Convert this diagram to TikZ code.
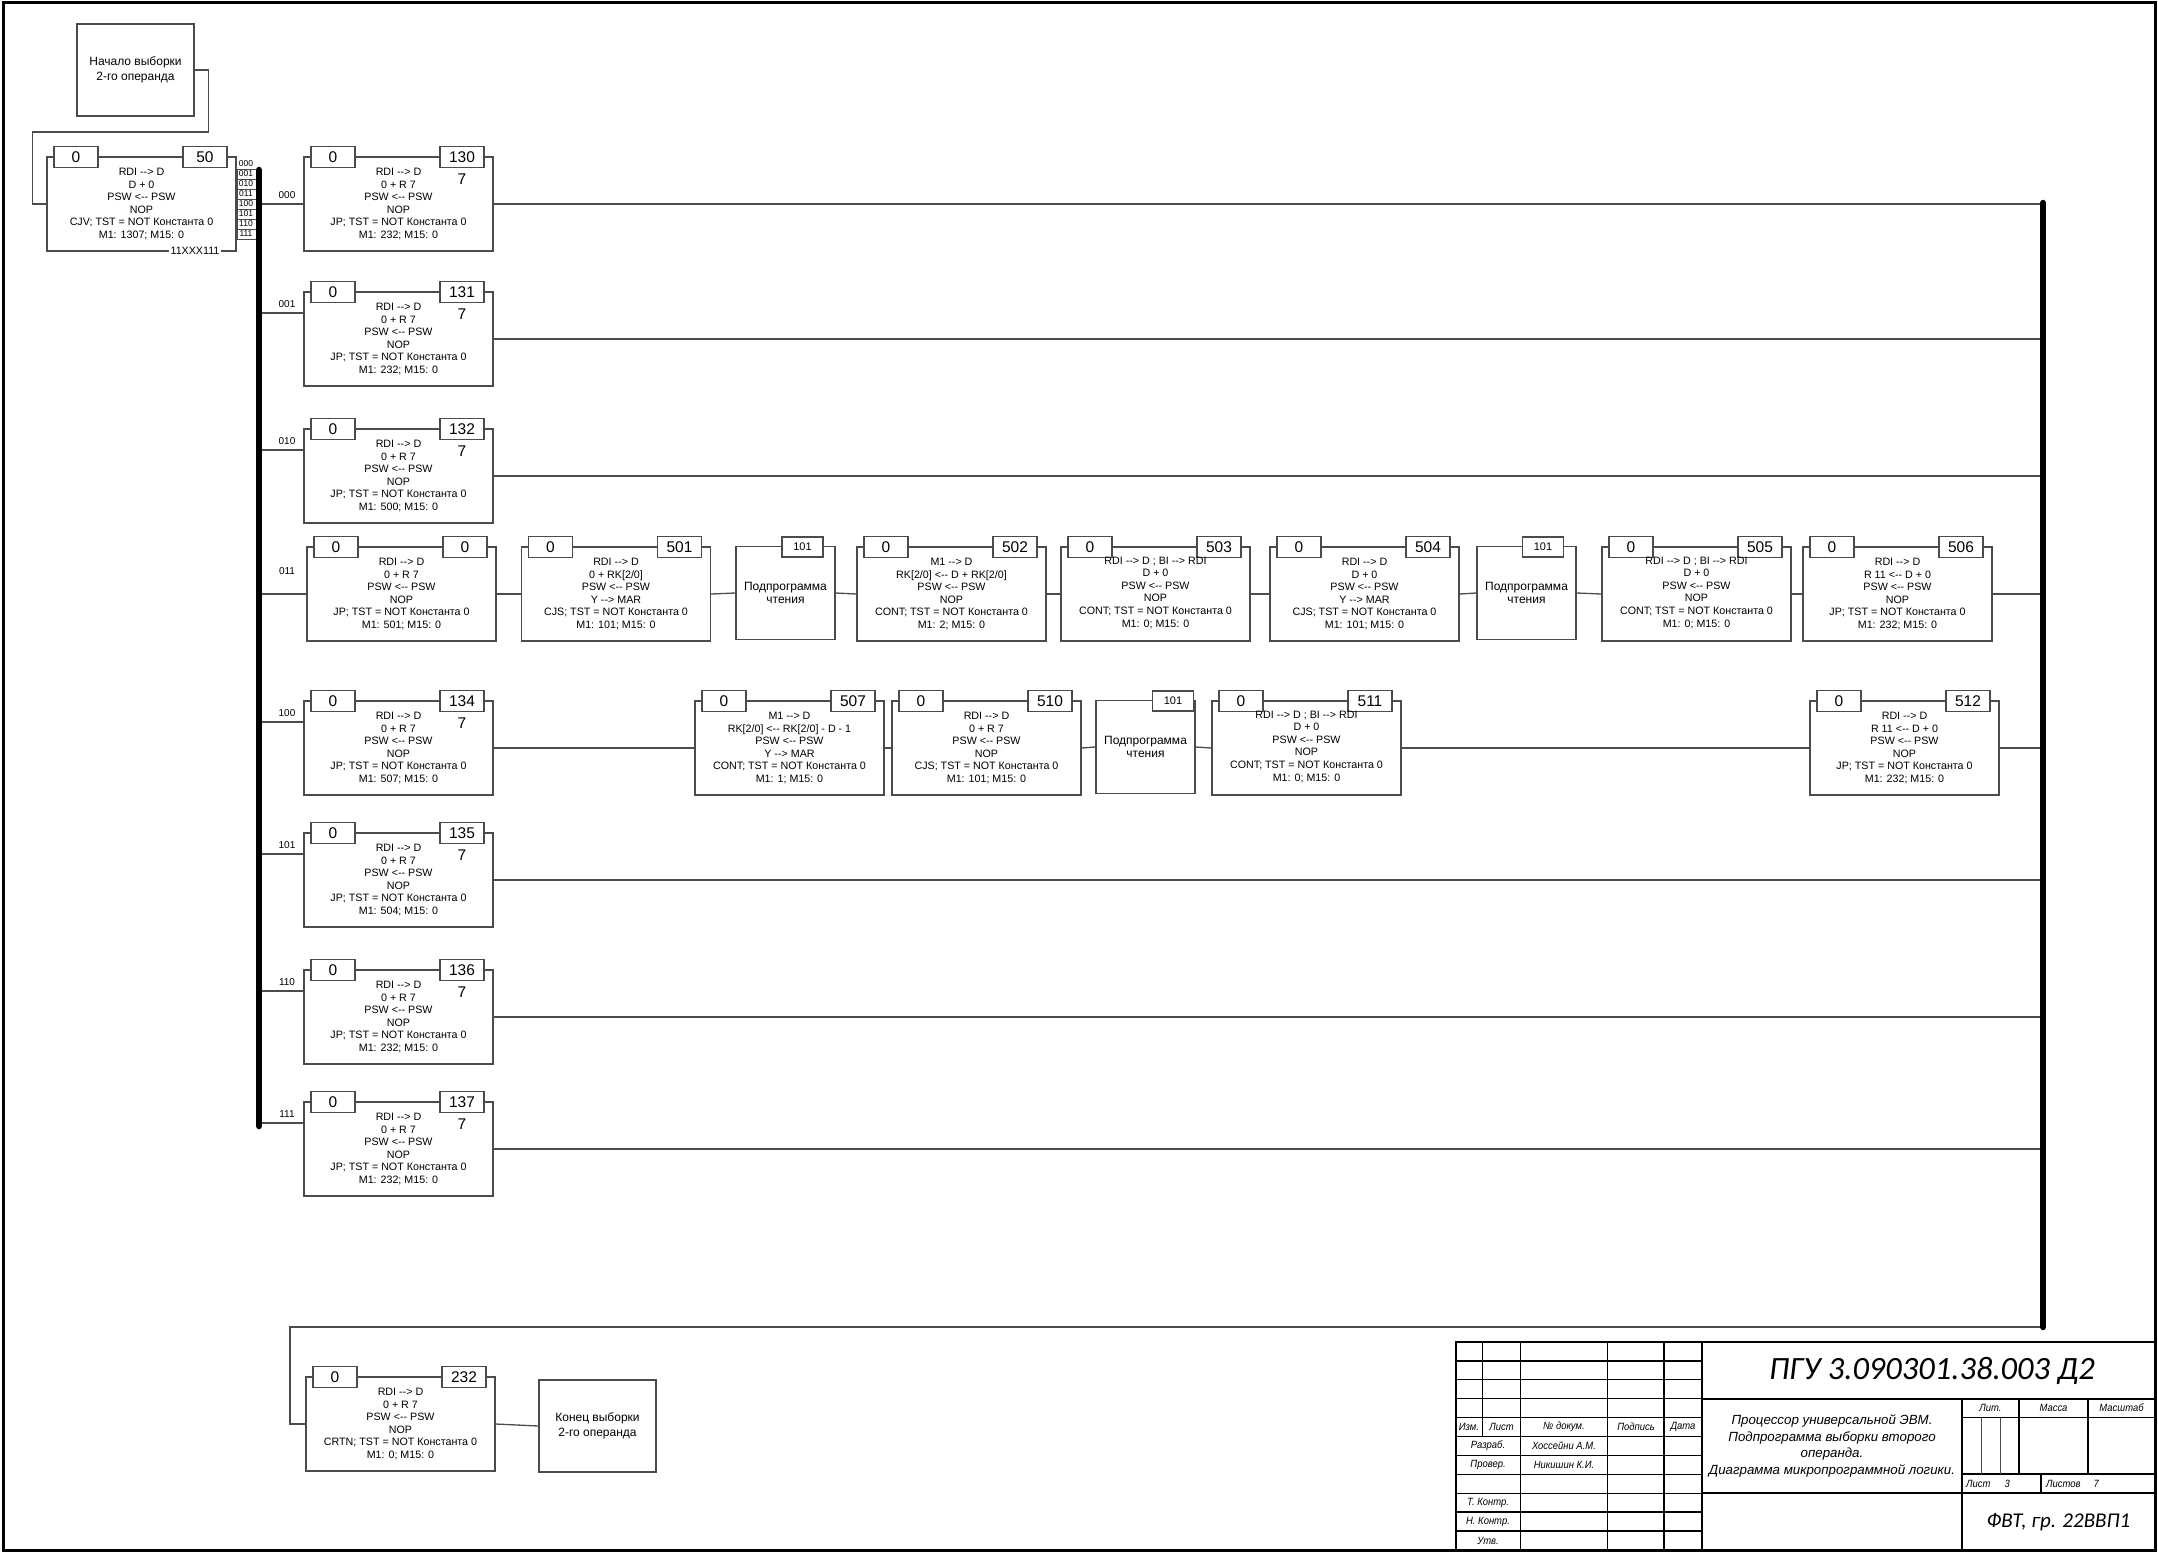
\documentclass[tikz,border=0pt]{standalone}
\usepackage{fontspec}
\setmainfont{Liberation Sans}[Ligatures=TeXOff]
\newfontfamily\gostfont{Carlito}
\newfontfamily\narrowfont{Liberation Sans}[FakeStretch=0.9,Ligatures=TeXOff]
\usetikzlibrary{calc}
\definecolor{ln}{RGB}{75,75,75}

% microinstruction box: name, left x, top y, left field, right field, text, text options
\newcommand\mpbox[7]{%
  \node[outerbox] (#1) at ({#2+94.5},{#3+47}) {};
  \node[numbox] (#1a) at ({#2+29},#3) {#4};
  \node[numbox] (#1b) at ({#2+158},#3) {#5};
  \node[boxtext,#7] (#1t) at (#1.center) {#6};
}
% "7" under the address field
\newcommand\seven[1]{\node[numfont] (#1s) at ([yshift=-11.5pt]#1b.south) {7};}
% subroutine call box: name, left x, top y, offset of the 101 field
\newcommand\subbox[4]{%
  \node[subouter] (#1) at ({#2+49.5},{#3+46}) {Подпрограмма\\чтения};
  \node[smallnum] (#1n) at ({#2+#4},#3) {101};
}
\newcommand\jpt{JP; TST = NOT Константа 0}

\begin{document}
\begin{tikzpicture}[x=1pt,y=-1pt,
  wire/.style={draw=ln,line width=1.3pt},
  bus/.style={draw=black,line width=6.5pt,line cap=round},
  outerbox/.style={wire,minimum width=189pt,minimum height=94pt,inner sep=0pt},
  numfont/.style={inner sep=0pt,font=\fontsize{15.5}{15.5}\selectfont},
  numbox/.style={wire,fill=white,minimum width=44pt,minimum height=21pt,inner sep=0pt,font=\fontsize{15.5}{15.5}\selectfont},
  smallnum/.style={wire,fill=white,minimum width=41pt,minimum height=20pt,inner sep=0pt,font=\fontsize{11}{11}\selectfont},
  boxtext/.style={align=center,inner sep=0pt,font=\fontsize{10.7}{12.6}\selectfont},
  subouter/.style={wire,minimum width=99pt,minimum height=93pt,inner sep=0pt,align=center,font=\fontsize{12}{13}\selectfont},
  termbox/.style={wire,minimum width=117pt,minimum height=92pt,inner sep=0pt,align=center,font=\fontsize{12}{15}\selectfont},
  lbl/.style={inner sep=0pt,font=\fontsize{10}{10}\selectfont},
  code/.style={inner sep=0pt,font=\fontsize{8.5}{8.5}\selectfont},
  tb/.style={draw=black,line width=1.7pt},
  tbthin/.style={draw=black!70,line width=0.8pt},
  tbsmall/.style={inner sep=0pt,font=\narrowfont\itshape\fontsize{10.5}{10.5}\selectfont},
]
\useasboundingbox (0,0) rectangle (2158,1553);
\fill[white] (0,0) rectangle (2158,1553);

% ---------- start of the routine ----------
\node[termbox] (start) at (135.5,70) {Начало выборки\\2-го операнда};
\mpbox{b50}{47}{157}{0}{50}{RDI --> D\\D + 0\\PSW <-- PSW\\NOP\\CJV; TST = NOT Константа 0\\M1: 1307; M15: 0}{}
\draw[wire] (start.east) -- ++(14,0) -- ++(0,62) -| ([xshift=-14pt]b50.west) -- (b50.west);
\node[boxtext,fill=white,inner sep=1.5pt] (mask) at (195,251) {11XXX111};

% branch code table
\foreach \c [count=\k from 0] in {000,001,010,011,100,101,110,111}
  \node[code] (code\c) at (246,{164+10*\k}) {\c};
\foreach \k in {0,...,7}
  \draw[wire,line width=0.9pt] (237,{169+10*\k}) -- (256,{169+10*\k});
\draw[wire,line width=0.9pt] (237,169) -- (237,239);

% ---------- buses ----------
\coordinate (lbusT) at (259,170);
\coordinate (lbusB) at (259,1126);
\coordinate (rbusT) at (2043,203);
\coordinate (rbusB) at (2043,1327);

% ---------- branch 000 ----------
\mpbox{b130}{304}{157}{0}{130}{RDI --> D\\0 + R 7\\PSW <-- PSW\\NOP\\\jpt\\M1: 232; M15: 0}{}
\seven{b130}
\node[lbl] (l000) at (287,195) {000};
\draw[wire] (lbusT |- b130.west) -- (b130.west);
\draw[wire] (b130.east) -- (rbusT |- b130.east);

% ---------- branch 001 ----------
\mpbox{b131}{304}{292}{0}{131}{RDI --> D\\0 + R 7\\PSW <-- PSW\\NOP\\\jpt\\M1: 232; M15: 0}{}
\seven{b131}
\node[lbl] (l001) at (287,304) {001};
\coordinate (in131) at ([yshift=26pt]b131.west);
\draw[wire] (lbusT |- in131) -- (in131);
\draw[wire] (b131.east) -- (rbusT |- b131.east);

% ---------- branch 010 ----------
\mpbox{b132}{304}{429}{0}{132}{RDI --> D\\0 + R 7\\PSW <-- PSW\\NOP\\\jpt\\M1: 500; M15: 0}{}
\seven{b132}
\node[lbl] (l010) at (287,441) {010};
\coordinate (in132) at ([yshift=26pt]b132.west);
\draw[wire] (lbusT |- in132) -- (in132);
\draw[wire] (b132.east) -- (rbusT |- b132.east);

% ---------- branch 011 ----------
\mpbox{b011}{307}{547}{0}{0}{RDI --> D\\0 + R 7\\PSW <-- PSW\\NOP\\\jpt\\M1: 501; M15: 0}{}
\mpbox{b501}{521.5}{547}{0}{501}{RDI --> D\\0 + RK[2/0]\\PSW <-- PSW\\Y --> MAR\\CJS; TST = NOT Константа 0\\M1: 101; M15: 0}{}
\subbox{s1}{736}{547}{66.5}
\mpbox{b502}{857}{547}{0}{502}{M1 --> D\\RK[2/0] <-- D + RK[2/0]\\PSW <-- PSW\\NOP\\CONT; TST = NOT Константа 0\\M1: 2; M15: 0}{}
\mpbox{b503}{1061}{547}{0}{503}{RDI --> D ; BI --> RDI\\D + 0\\PSW <-- PSW\\NOP\\CONT; TST = NOT Константа 0\\M1: 0; M15: 0}{yshift=1.5pt}
\mpbox{b504}{1270}{547}{0}{504}{RDI --> D\\D + 0\\PSW <-- PSW\\Y --> MAR\\CJS; TST = NOT Константа 0\\M1: 101; M15: 0}{}
\subbox{s2}{1477}{547}{66}
\mpbox{b505}{1602}{547}{0}{505}{RDI --> D ; BI --> RDI\\D + 0\\PSW <-- PSW\\NOP\\CONT; TST = NOT Константа 0\\M1: 0; M15: 0}{yshift=1.5pt}
\mpbox{b506}{1803}{547}{0}{506}{RDI --> D\\R 11 <-- D + 0\\PSW <-- PSW\\NOP\\\jpt\\M1: 232; M15: 0}{}
\node[lbl] (l011) at (287,571) {011};
\draw[wire] (lbusT |- b011.west) -- (b011.west);
\draw[wire] (b011.east) -- (b501.west);
\draw[wire] (b501.east) -- (s1.west);
\draw[wire] (s1.east) -- (b502.west);
\draw[wire] (b502.east) -- (b503.west);
\draw[wire] (b503.east) -- (b504.west);
\draw[wire] (b504.east) -- (s2.west);
\draw[wire] (s2.east) -- (b505.west);
\draw[wire] (b505.east) -- (b506.west);
\draw[wire] (b506.east) -- (rbusT |- b506.east);

% ---------- branch 100 ----------
\mpbox{b134}{304}{701}{0}{134}{RDI --> D\\0 + R 7\\PSW <-- PSW\\NOP\\\jpt\\M1: 507; M15: 0}{}
\seven{b134}
\mpbox{b507}{695}{701}{0}{507}{M1 --> D\\RK[2/0] <-- RK[2/0] - D - 1\\PSW <-- PSW\\Y --> MAR\\CONT; TST = NOT Константа 0\\M1: 1; M15: 0}{}
\mpbox{b510}{892}{701}{0}{510}{RDI --> D\\0 + R 7\\PSW <-- PSW\\NOP\\CJS; TST = NOT Константа 0\\M1: 101; M15: 0}{}
\subbox{s3}{1096}{701}{77}
\mpbox{b511}{1212}{701}{0}{511}{RDI --> D ; BI --> RDI\\D + 0\\PSW <-- PSW\\NOP\\CONT; TST = NOT Константа 0\\M1: 0; M15: 0}{yshift=1.5pt}
\mpbox{b512}{1810}{701}{0}{512}{RDI --> D\\R 11 <-- D + 0\\PSW <-- PSW\\NOP\\\jpt\\M1: 232; M15: 0}{}
\node[lbl] (l100) at (287,713) {100};
\coordinate (in134) at ([yshift=26pt]b134.west);
\draw[wire] (lbusT |- in134) -- (in134);
\draw[wire] (b134.east) -- (b507.west);
\draw[wire] (b507.east) -- (b510.west);
\draw[wire] (b510.east) -- (s3.west);
\draw[wire] (s3.east) -- (b511.west);
\draw[wire] (b511.east) -- (b512.west);
\draw[wire] (b512.east) -- (rbusT |- b512.east);

% ---------- branch 101 ----------
\mpbox{b135}{304}{833}{0}{135}{RDI --> D\\0 + R 7\\PSW <-- PSW\\NOP\\\jpt\\M1: 504; M15: 0}{}
\seven{b135}
\node[lbl] (l101) at (287,845) {101};
\coordinate (in135) at ([yshift=26pt]b135.west);
\draw[wire] (lbusT |- in135) -- (in135);
\draw[wire] (b135.east) -- (rbusT |- b135.east);

% ---------- branch 110 ----------
\mpbox{b136}{304}{970}{0}{136}{RDI --> D\\0 + R 7\\PSW <-- PSW\\NOP\\\jpt\\M1: 232; M15: 0}{}
\seven{b136}
\node[lbl] (l110) at (287,982) {110};
\coordinate (in136) at ([yshift=26pt]b136.west);
\draw[wire] (lbusT |- in136) -- (in136);
\draw[wire] (b136.east) -- (rbusT |- b136.east);

% ---------- branch 111 ----------
\mpbox{b137}{304}{1102}{0}{137}{RDI --> D\\0 + R 7\\PSW <-- PSW\\NOP\\\jpt\\M1: 232; M15: 0}{}
\seven{b137}
\node[lbl] (l111) at (287,1114) {111};
\coordinate (in137) at ([yshift=26pt]b137.west);
\draw[wire] (lbusT |- in137) -- (in137);
\draw[wire] (b137.east) -- (rbusT |- b137.east);

% ---------- end of the routine ----------
\mpbox{b232}{306}{1377}{0}{232}{RDI --> D\\0 + R 7\\PSW <-- PSW\\NOP\\CRTN; TST = NOT Константа 0\\M1: 0; M15: 0}{}
\node[termbox] (finish) at (597.5,1426) {Конец выборки\\2-го операнда};
\coordinate (loop) at (290,1327);
\draw[wire] (rbusB) -- (loop) |- (b232.west);
\draw[wire] (b232.east) -- (finish.west);

% buses on top
\draw[bus] (lbusT) -- (lbusB);
\draw[bus] (rbusT) -- (rbusB);

% ---------- title block ----------
\def\ya{1342}\def\yb{1360.9}\def\yc{1379.8}\def\yd{1398.7}\def\ye{1417.6}\def\yf{1436.5}
\def\yg{1455.4}\def\yh{1474.3}\def\yi{1493.2}\def\yj{1512.1}\def\yk{1531}\def\yl{1550}
\draw[tb] (1456,\yl) -- (1456,\ya) -- (2155,\ya);
\foreach \yy in {\yb,\yc,\yd,\ye,\yf,\yg,\yh,\yi,\yj,\yk}
  \draw[tb,line width=1.3pt] (1456,\yy) -- (1702,\yy);
\draw[tb] (1456,\yf) -- (1702,\yf);
\draw[tb] (1456,\ye) -- (1702,\ye);
\draw[tb] (1482.5,\ya) -- (1482.5,\yf);
\foreach \xx in {1520.5,1607.5,1664,1702}
  \draw[tb] (\xx,\ya) -- (\xx,\yl);
\draw[tb] (1702,\yd) -- (2155,\yd);
\draw[tb] (1702,\yi) -- (2155,\yi);
\draw[tb] (1962,\yd) -- (1962,\yl);
\draw[tb] (1962,\ye) -- (2155,\ye);
\draw[tb] (1962,\yh) -- (2155,\yh);
\draw[tb] (2019,\yd) -- (2019,\yh);
\draw[tb] (2088,\yd) -- (2088,\yh);
\draw[tbthin] (1981,\ye) -- (1981,\yh);
\draw[tbthin] (2000,\ye) -- (2000,\yh);
\draw[tb] (2041,\yh) -- (2041,\yi);

\node[inner sep=0pt,font=\gostfont\itshape\fontsize{32.5}{32.5}\selectfont] (doc) at (1932,1371) {ПГУ 3.090301.38.003 Д2};
\node[inner sep=0pt,align=center,font=\itshape\fontsize{13.3}{16.5}\selectfont] (topic) at (1832,1446)
  {Процессор универсальной ЭВМ.\\Подпрограмма выборки второго\\операнда.\\Диаграмма микропрограммной логики.};
\node[tbsmall] (lit) at (1990.5,1408) {Лит.};
\node[tbsmall] (mass) at (2053.5,1408) {Масса};
\node[tbsmall] (scale) at (2121.5,1408) {Масштаб};
\node[tbsmall,anchor=west] (sheet) at (1966,1484) {Лист\hspace{14pt}3};
\node[tbsmall,anchor=west] (sheets) at (2046,1484) {Листов\hspace{13pt}7};
\node[inner sep=0pt,font=\gostfont\itshape\fontsize{21}{21}\selectfont] (group) at (2058.5,1522) {ФВТ, гр. 22ВВП1};
\node[tbsmall] (h1) at (1469,1427) {Изм.};
\node[tbsmall] (h2) at (1501.5,1427) {Лист};
\node[tbsmall] (h3) at (1564,1427) {№ докум.};
\node[tbsmall] (h4) at (1636,1427) {Подпись};
\node[tbsmall] (h5) at (1683,1427) {Дата};
\node[tbsmall] (r1) at (1488,1446) {Разраб.};
\node[tbsmall] (n1) at (1564,1446) {Хоссейни А.М.};
\node[tbsmall] (r2) at (1488,1465) {Провер.};
\node[tbsmall] (n2) at (1564,1465) {Никишин К.И.};
\node[tbsmall] (r3) at (1488,1502.6) {Т. Контр.};
\node[tbsmall] (r4) at (1488,1521.5) {Н. Контр.};
\node[tbsmall] (r5) at (1488,1540.5) {Утв.};

% sheet frame
\draw[black,line width=3pt] (3,2) rectangle (2155,1550);
\end{tikzpicture}
\end{document}
